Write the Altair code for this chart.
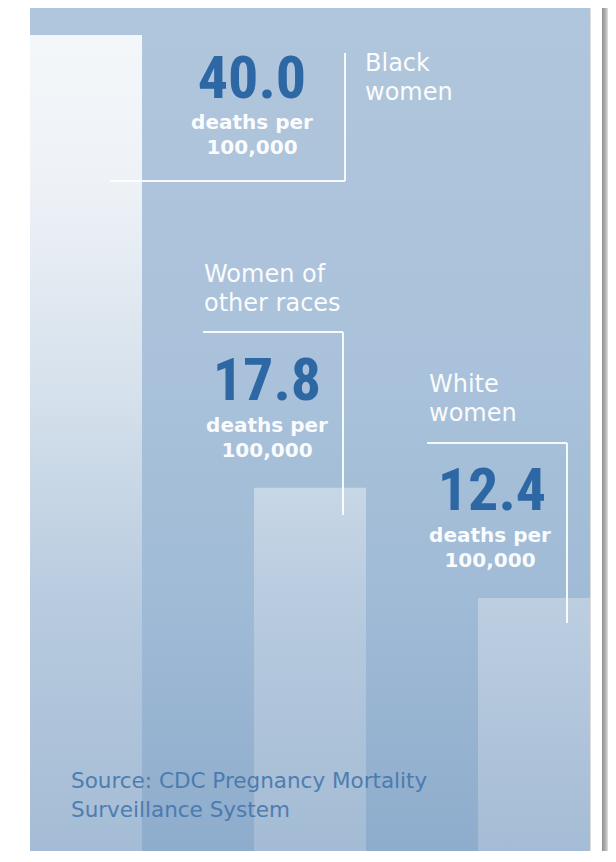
import altair as alt
import pandas as pd

# ---- data ----
groups = ["Black women", "Women of other races", "White women"]
group_lines = [["Black", "women"], ["Women of", "other races"], ["White", "women"]]
rates = [40.0, 17.8, 12.4]
unit_lines = ["deaths per", "100,000"]
source_lines = ["Source: CDC Pregnancy Mortality", "Surveillance System"]

W, H = 560, 843
Y_MAX = 41.32

df = pd.DataFrame({"group": groups, "rate": rates})
one = pd.DataFrame({"k": [0]})

x_scale = alt.Scale(domain=groups, paddingInner=0.5, paddingOuter=0)
y_scale = alt.Scale(domain=[0, Y_MAX], nice=False, zero=True)


def grad(stops, x2=0, y2=1):
    return alt.LinearGradient(
        gradient="linear", x1=0, y1=0, x2=x2, y2=y2,
        stops=[alt.GradientStop(offset=o, color=c) for o, c in stops],
    )


background = alt.Chart(one).mark_rect(
    color=grad([(0, "#b0c6dc"), (0.45, "#a9c1da"), (0.7, "#a0bbd6"), (1, "#8eaccc")])
).encode(x=alt.value(0), x2=alt.value(W), y=alt.value(0), y2=alt.value(H))

shadow = alt.Chart(one).mark_rect(
    color=grad([(0, "#8f8f8f"), (0.6, "#b5b5b5"), (1, "#e0e0e0")], x2=1, y2=0)
).encode(x=alt.value(572), x2=alt.value(578), y=alt.value(-8), y2=alt.value(H + 11))

bar_grads = [
    [(0, "#f4f7fa"), (0.18, "#eef2f7"), (0.45, "#d4e0eb"), (0.69, "#b8cbdf"), (1, "#a4bcd5")],
    [(0, "#c8d7e6"), (0.31, "#b8cbdf"), (1, "#a3bbd4")],
    [(0, "#bdcee1"), (1, "#a4bcd5")],
]

bars = [
    alt.Chart(df).transform_filter(alt.datum.group == g).mark_bar(color=grad(bar_grads[i])).encode(
        x=alt.X("group:N", scale=x_scale, axis=None),
        y=alt.Y("rate:Q", scale=y_scale, axis=None),
    )
    for i, g in enumerate(groups)
]


def rule(x, x2, y, y2):
    return alt.Chart(one).mark_rule(color="white", strokeWidth=2, opacity=0.9).encode(
        x=alt.value(x), x2=alt.value(x2), y=alt.value(y), y2=alt.value(y2)
    )


rules = [
    rule(315, 315, 45, 173), rule(80, 315, 173, 173),
    rule(313, 313, 324, 507), rule(173, 313, 324, 324),
    rule(537, 537, 435, 615), rule(397, 537, 435, 435),
]


def text(lines, x, y, size, weight="normal", color="white", align="left",
         font="DejaVu Sans", line_h=29, opacity=1.0):
    return alt.Chart(one).mark_text(
        align=align, baseline="alphabetic", font=font, fontSize=size,
        fontWeight=weight, color=color, lineHeight=line_h, opacity=opacity,
    ).encode(x=alt.value(x), y=alt.value(y), text=alt.value(lines))


BIG_FONT = "Roboto Condensed"
BLUE = "#2d67a4"

number_pos = [(222, 90), (237, 392), (462, 502)]
unit_pos = [(222, 121), (237, 424), (460, 534)]
label_pos = [(335, 63), (174, 274), (399, 384)]

texts = []
for i in range(3):
    nx, ny = number_pos[i]
    texts.append(text(f"{rates[i]:.1f}", nx, ny, 60, "bold", BLUE, "center", BIG_FONT))
    ux, uy = unit_pos[i]
    texts.append(text(unit_lines, ux, uy, 20, "bold", "white", "center", line_h=25, opacity=0.95))
    lx, ly = label_pos[i]
    texts.append(text(group_lines[i], lx, ly, 24, "normal", "white", "left", line_h=29, opacity=0.95))

texts.append(text(source_lines, 41, 780, 21.5, "normal", "#3f73aa", "left", line_h=29, opacity=0.85))

chart = alt.layer(background, shadow, *bars, *rules, *texts).properties(
    width=W, height=H,
    autosize=alt.AutoSizeParams(type="none"),
    padding={"left": 22, "top": 0, "right": 18, "bottom": 0},
).configure_view(stroke=None).configure(background="white")

chart.save("out.html", embed_options={"renderer": "svg", "actions": False})
